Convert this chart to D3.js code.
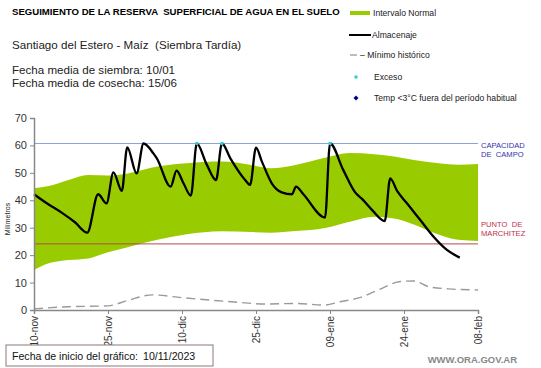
<!DOCTYPE html>
<html>
<head>
<meta charset="utf-8">
<script src="https://cdn.jsdelivr.net/npm/d3@7"></script>
<style>
  body { margin: 0; background: #fff; }
  svg { font-family: "Liberation Sans", Arial, sans-serif; }
  text { white-space: pre; }
</style>
</head>
<body>
<div id="chart"></div>
<script>
// days counted from the chart start (10-nov-2023)
const tickDays = [0, 15, 30, 45, 60, 75, 90];
const tickLabels = ['10-nov', '25-nov', '10-dic', '25-dic', '09-ene', '24-ene', '08-feb'];
const yTicks = [0, 10, 20, 30, 40, 50, 60, 70];

// Intervalo normal (green band)
const bandDays = [0, 3, 7, 11, 15, 19, 25, 31, 38, 44, 48, 53, 59, 64, 69, 73, 77, 82, 86, 90];
const bandHigh = [44.4, 45.2, 47.4, 49.2, 49, 49.8, 52.3, 53.5, 54.1, 52.9, 51.7, 52.9, 55.5, 57.2, 56.8, 56, 54.7, 53.5, 53, 53.2];
const bandLow = [14.6, 17, 18.2, 18.8, 21.1, 22.9, 25.6, 27.6, 28.7, 28.4, 28.2, 28.8, 29.9, 32.2, 34, 33.4, 31.2, 27.5, 25.6, 25.2];

// Almacenaje
const storDays = [0, 2.6, 5.6, 8.3, 10.8, 13, 14.7, 16.1, 17.8, 18.9, 20.8, 22.2, 24.2, 24.9, 27.7, 28.9, 30.3, 31.8, 33, 35, 36.9, 38.1, 39.8, 42.8, 43.8, 45, 46.2, 48.2, 50.2, 52.3, 53.1, 54.6, 59, 60, 62.7, 65.1, 66.5, 68.5, 71.1, 72.2, 73.6, 75.6, 78.3, 81, 83.7, 86.3];
const storVals = [42.2, 38.9, 35.5, 32, 28.2, 42.2, 38.9, 50.2, 43.4, 59.3, 49.8, 60.7, 57.1, 55.3, 45, 50.8, 46.2, 41.7, 60.7, 53.1, 47.4, 60.7, 55.3, 47.4, 45.6, 59.2, 54.1, 46.2, 42.9, 42.2, 45, 42.2, 33.7, 60.7, 51, 42.9, 40.5, 36.5, 32.4, 48, 43.4, 38.9, 32.8, 26.7, 21.9, 19.1];

// Mínimo histórico
const minDays = [0, 7, 15, 19, 24, 30, 40, 47, 53, 59, 62, 66, 70, 74, 77, 80, 84, 90];
const minVals = [0.4, 1.2, 1.5, 3.5, 5.5, 4.5, 3, 2.2, 2.4, 1.8, 3, 4.5, 7.5, 10.3, 10.6, 8.5, 7.7, 7.3];

// Exceso
const excessDays = [33, 38.1, 60];
const excessVals = [60.7, 60.7, 60.7];

const capacidad = 60.7;
const marchitez = 24.1;

const width = 541, height = 368;
const svg = d3.select('#chart').append('svg')
  .attr('width', width).attr('height', height);

const x = d3.scaleLinear().domain([0, 90]).range([34, 478]);
const y = d3.scaleLinear().domain([0, 70]).range([310, 118]);

// header texts
svg.append('text').attr('x', 12).attr('y', 15)
  .attr('font-size', 9.6).attr('font-weight', 'bold')
  .text('SEGUIMIENTO DE LA RESERVA  SUPERFICIAL DE AGUA EN EL SUELO');
svg.append('text').attr('x', 12).attr('y', 49).attr('font-size', 11.6).attr('fill', '#222')
  .text('Santiago del Estero - Maíz  (Siembra Tardía)');
svg.append('text').attr('x', 12).attr('y', 74).attr('font-size', 11.6).attr('fill', '#222')
  .text('Fecha media de siembra: 10/01');
svg.append('text').attr('x', 12).attr('y', 87).attr('font-size', 11.6).attr('fill', '#222')
  .text('Fecha media de cosecha: 15/06');

// legend
const lg = svg.append('g').attr('font-size', 8.6).attr('fill', '#222');
lg.append('rect').attr('x', 350).attr('y', 11).attr('width', 20).attr('height', 4).attr('fill', '#99cc00');
lg.append('text').attr('x', 373).attr('y', 16).text('Intervalo Normal');
lg.append('line').attr('x1', 349).attr('x2', 371).attr('y1', 35).attr('y2', 35)
  .attr('stroke', '#000').attr('stroke-width', 2);
lg.append('text').attr('x', 372).attr('y', 38).text('Almacenaje');
lg.append('line').attr('x1', 350).attr('x2', 357).attr('y1', 55).attr('y2', 55)
  .attr('stroke', '#999').attr('stroke-width', 1.3);
lg.append('text').attr('x', 360).attr('y', 58).text('– Mínimo histórico');
lg.append('circle').attr('cx', 356).attr('cy', 77).attr('r', 1.8).attr('fill', '#33ccdd');
lg.append('text').attr('x', 374).attr('y', 80).text('Exceso');
lg.append('rect').attr('x', -1.8).attr('y', -1.8).attr('width', 3.6).attr('height', 3.6)
  .attr('transform', 'translate(356,98) rotate(45)').attr('fill', '#000080');
lg.append('text').attr('x', 374).attr('y', 101).text('Temp <3°C fuera del período habitual');

// band
const band = bandDays.map((d, i) => ({ d, lo: bandLow[i], hi: bandHigh[i] }));
svg.append('path').datum(band)
  .attr('fill', '#99cc00')
  .attr('d', d3.area().x(p => x(p.d)).y0(p => y(p.lo)).y1(p => y(p.hi)).curve(d3.curveMonotoneX));

// reference lines
svg.append('line').attr('x1', x(0)).attr('x2', x(90)).attr('y1', y(capacidad)).attr('y2', y(capacidad))
  .attr('stroke', '#8aa4d6').attr('stroke-width', 1);
svg.append('line').attr('x1', x(0)).attr('x2', x(90)).attr('y1', y(marchitez)).attr('y2', y(marchitez))
  .attr('stroke', '#b04a4a').attr('stroke-width', 1);

const rl = svg.append('g').attr('font-size', 7.6);
rl.append('text').attr('x', 481).attr('y', 148).attr('fill', '#3333aa').text('CAPACIDAD');
rl.append('text').attr('x', 481).attr('y', 157).attr('fill', '#3333aa').text('DE  CAMPO');
rl.append('text').attr('x', 481).attr('y', 227).attr('fill', '#c0304a').text('PUNTO  DE');
rl.append('text').attr('x', 481).attr('y', 236).attr('fill', '#c0304a').text('MARCHITEZ');

// minimum historic
const minData = minDays.map((d, i) => ({ d, v: minVals[i] }));
svg.append('path').datum(minData)
  .attr('fill', 'none').attr('stroke', '#9a9a9a').attr('stroke-width', 1.4)
  .attr('stroke-dasharray', '9,5')
  .attr('d', d3.line().x(p => x(p.d)).y(p => y(p.v)).curve(d3.curveMonotoneX));

// storage
const stor = storDays.map((d, i) => ({ d, v: storVals[i] }));
svg.append('path').datum(stor)
  .attr('fill', 'none').attr('stroke', '#000').attr('stroke-width', 2.3)
  .attr('stroke-linejoin', 'round')
  .attr('d', d3.line().x(p => x(p.d)).y(p => y(p.v)).curve(d3.curveMonotoneX));

svg.append('g').selectAll('circle')
  .data(excessDays.map((d, i) => ({ d, v: excessVals[i] })))
  .join('circle')
  .attr('cx', p => x(p.d)).attr('cy', p => y(p.v)).attr('r', 1.8).attr('fill', '#33ccdd');

// axes
const yAxis = svg.append('g').attr('transform', `translate(${x(0)},0)`)
  .call(d3.axisLeft(y).tickValues(yTicks).tickSize(4).tickPadding(3));
yAxis.select('.domain').attr('stroke', '#888').attr('stroke-width', 1.5);
yAxis.selectAll('.tick line').attr('stroke', '#888');
yAxis.selectAll('text').attr('font-size', 11).attr('fill', '#333')
  .attr('font-family', '"Liberation Sans", Arial, sans-serif');

const xAxis = svg.append('g').attr('transform', `translate(0,${y(0)})`)
  .call(d3.axisBottom(x).tickValues(tickDays).tickFormat((d, i) => tickLabels[i]).tickSize(4));
xAxis.select('.domain').attr('stroke', '#888').attr('stroke-width', 1.5);
xAxis.selectAll('.tick line').attr('stroke', '#888');
xAxis.selectAll('text')
  .attr('font-size', 10).attr('fill', '#333')
  .attr('font-family', '"Liberation Sans", Arial, sans-serif')
  .attr('transform', 'rotate(-90)')
  .attr('text-anchor', 'end')
  .attr('x', -6).attr('y', 0).attr('dy', '0.35em');

svg.append('text').attr('transform', `translate(10,${(y(0) + y(70)) / 2 + 5}) rotate(-90)`)
  .attr('text-anchor', 'middle').attr('font-size', 7).attr('fill', '#222')
  .text('Milímetros');

// footer
svg.append('rect').attr('x', 6).attr('y', 345).attr('width', 207).attr('height', 21)
  .attr('fill', '#fff').attr('stroke', '#8a7a7a').attr('stroke-width', 1);
svg.append('text').attr('x', 12).attr('y', 360).attr('font-size', 10.6).attr('fill', '#111')
  .text('Fecha de inicio del gráfico:');
svg.append('text').attr('x', 143).attr('y', 360).attr('font-size', 10.6).attr('fill', '#111')
  .text('10/11/2023');
svg.append('text').attr('x', 517).attr('y', 363).attr('text-anchor', 'end')
  .attr('font-size', 9.5).attr('font-weight', 'bold').attr('fill', '#888')
  .text('WWW.ORA.GOV.AR');
</script>
</body>
</html>
